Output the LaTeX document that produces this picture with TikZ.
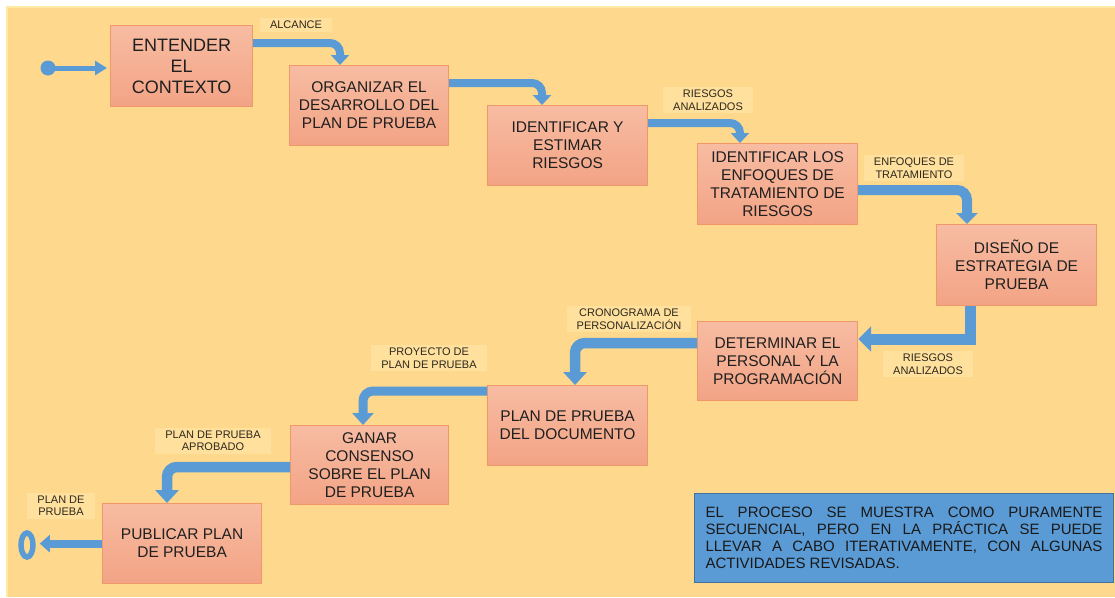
\documentclass[tikz,border=0pt]{standalone}
\usepackage{fontspec}
\setmainfont{Liberation Sans}
\usetikzlibrary{arrows.meta,calc,shapes.geometric}
\definecolor{bgc}{RGB}{254,216,140}
\definecolor{bgedge}{RGB}{255,234,165}
\definecolor{boxtop}{RGB}{247,188,162}
\definecolor{boxbot}{RGB}{243,163,133}
\definecolor{boxline}{RGB}{240,152,108}
\definecolor{flowc}{RGB}{91,155,213}
\definecolor{noteline}{RGB}{65,113,156}
\definecolor{lblbg}{RGB}{255,224,156}
\definecolor{txt}{RGB}{32,32,32}
\definecolor{lbltxt}{RGB}{45,40,30}
\begin{document}
\begin{tikzpicture}[x=1pt,y=-1pt,
  proc/.style={draw=boxline, line width=1.2pt, top color=boxtop, bottom color=boxbot,
    text=txt, align=center, anchor=north west, inner sep=0pt,
    font=\fontsize{15.5}{18}\selectfont},
  lbl/.style={fill=lblbg, text=lbltxt, align=center, inner xsep=10pt, inner ysep=3pt,
    font=\fontsize{11}{12.5}\selectfont},
  flow/.style={draw=flowc, line width=8pt, rounded corners=10pt,
    -{Triangle[width=18pt,length=10pt]}},
  bigflow/.style={flow, line width=10.5pt, -{Triangle[width=23pt,length=13pt]}},
]
\useasboundingbox (0,0) rectangle (1115,597);
\fill[white] (0,0) rectangle (1115,597);
\fill[bgc] (7,7) rectangle (1115,597);
\draw[bgedge, line width=1.2pt] (7,597) -- (7,7) -- (1115,7);

% boxes
\node[proc, minimum width=142, minimum height=81, font=\fontsize{18}{21}\selectfont] (b1) at (110,25) {ENTENDER\\EL\\CONTEXTO};
\node[proc, minimum width=159, minimum height=80] (b2) at (289,65) {ORGANIZAR EL\\DESARROLLO DEL\\PLAN DE PRUEBA};
\node[proc, minimum width=160, minimum height=80] (b3) at (487,105) {IDENTIFICAR Y\\ESTIMAR\\RIESGOS};
\node[proc, minimum width=160, minimum height=81] (b4) at (697,143) {IDENTIFICAR LOS\\ENFOQUES DE\\TRATAMIENTO DE\\RIESGOS};
\node[proc, minimum width=160, minimum height=81] (b5) at (936,224) {DISEÑO DE\\ESTRATEGIA DE\\PRUEBA};
\node[proc, minimum width=160, minimum height=79] (b6) at (697,321) {DETERMINAR EL\\PERSONAL Y LA\\PROGRAMACIÓN};
\node[proc, minimum width=160, minimum height=80] (b7) at (487,385) {PLAN DE PRUEBA\\DEL DOCUMENTO};
\node[proc, minimum width=158, minimum height=79] (b8) at (290,425) {GANAR\\CONSENSO\\SOBRE EL PLAN\\DE PRUEBA};
\node[proc, minimum width=159, minimum height=80] (b9) at (102,503) {PUBLICAR PLAN\\DE PRUEBA};

% labels
\node[lbl] (l1) at (296,25) {ALCANCE};
\node[lbl] (l2) at (708,100) {RIESGOS\\ANALIZADOS};
\node[lbl] (l3) at (914,168) {ENFOQUES DE\\TRATAMIENTO};
\node[lbl] (l4) at (928,364) {RIESGOS\\ANALIZADOS};
\node[lbl] (l5) at (629,319) {CRONOGRAMA DE\\PERSONALIZACIÓN};
\node[lbl] (l6) at (429,358) {PROYECTO DE\\PLAN DE PRUEBA};
\node[lbl] (l7) at (213,441) {PLAN DE PRUEBA\\APROBADO};
\node[lbl] (l8) at (61,506) {PLAN DE\\PRUEBA};

% start and end markers
\node[circle, fill=flowc, minimum size=15pt, inner sep=0pt] (start) at (48,68) {};
\node[ellipse, draw=flowc, line width=5.5pt, minimum width=12pt, minimum height=24pt, inner sep=0pt] (ring) at (27,545) {};

% connectors
\draw[draw=flowc, line width=5pt, -{Triangle[width=14pt,length=12pt]}, shorten >=3pt]
  (start.center) -- (start.center -| b1.west);
\draw[flow] ($(b1.north east)+(0,18)$) -| ($(b2.north west)+(51,0)$);
\draw[flow] ($(b2.north east)+(0,18)$) -| ($(b3.north west)+(55,0)$);
\draw[flow] ($(b3.north east)+(0,18)$) -| ($(b4.north west)+(43,0)$);
\draw[bigflow, line width=10pt, -{Triangle[width=21pt,length=11pt]}] ($(b4.north east)+(0,47)$) -| ($(b5.north west)+(31,0)$);
\draw[bigflow, sharp corners, line width=11pt, -{Triangle[width=25pt,length=13pt]}] ($(b5.south west)+(34,0)$) |- ($(b6.north east)+(0,18)$);
\draw[bigflow] ($(b6.north west)+(0,22)$) -| ($(b7.north west)+(88,0)$);
\draw[flow, line width=9pt, -{Triangle[width=21pt,length=12pt]}] ($(b7.north west)+(0,6)$) -| ($(b8.north west)+(73,0)$);
\draw[bigflow] ($(b8.north west)+(0,42)$) -| ($(b9.north west)+(65,0)$);
\draw[flow, -{Triangle[width=17pt,length=10pt]}, shorten >=4pt] (b9.west) -- (b9.west -| ring.east);

% note
\node[fill=flowc, draw=noteline, line width=1pt, anchor=north west, minimum width=419, minimum height=89,
  inner sep=0pt, text=black!90, align=left, font=\fontsize{15}{17}\selectfont] (note) at (694,493)
  {\makebox[397pt][s]{EL PROCESO SE MUESTRA COMO PURAMENTE}\\
   \makebox[397pt][s]{SECUENCIAL, PERO EN LA PRÁCTICA SE PUEDE}\\
   \makebox[397pt][s]{LLEVAR A CABO ITERATIVAMENTE, CON ALGUNAS}\\
   \makebox[397pt][l]{ACTIVIDADES REVISADAS.}};
\end{tikzpicture}
\end{document}
